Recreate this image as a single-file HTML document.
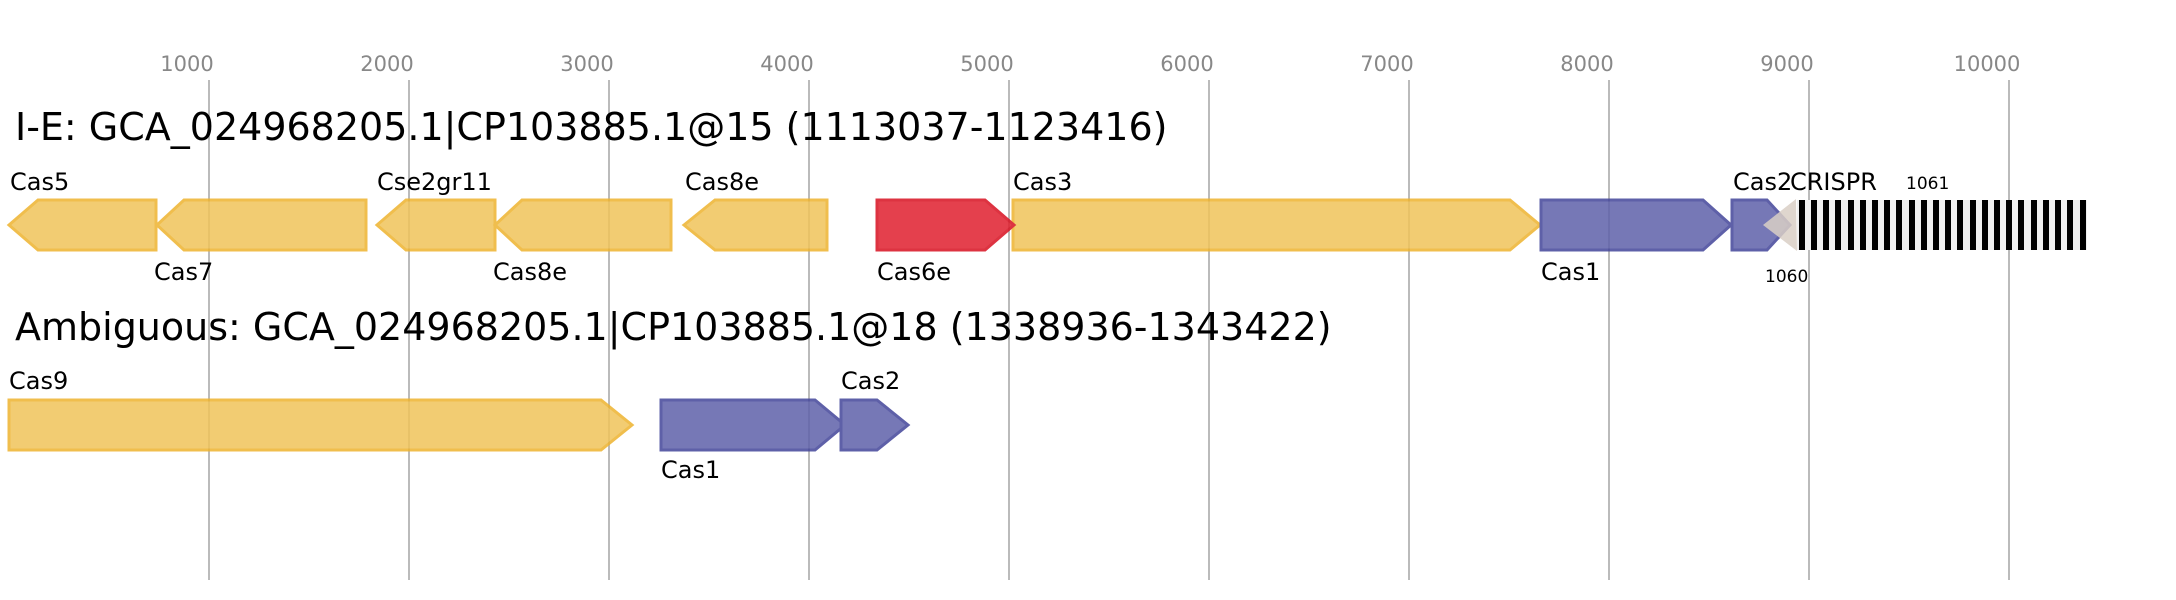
<!DOCTYPE html>
<html><head><style>body{margin:0;background:#fff}svg{display:block}</style></head><body>
<svg width="2176" height="600" xmlns="http://www.w3.org/2000/svg" font-family="DejaVu Sans, Liberation Sans, sans-serif">
<g stroke="#bbb" stroke-width="2">
<line x1="209" y1="80" x2="209" y2="580"/><line x1="409" y1="80" x2="409" y2="580"/><line x1="609" y1="80" x2="609" y2="580"/><line x1="809" y1="80" x2="809" y2="580"/><line x1="1009" y1="80" x2="1009" y2="580"/><line x1="1209" y1="80" x2="1209" y2="580"/><line x1="1409" y1="80" x2="1409" y2="580"/><line x1="1609" y1="80" x2="1609" y2="580"/><line x1="1809" y1="80" x2="1809" y2="580"/><line x1="2009" y1="80" x2="2009" y2="580"/>
</g>
<g fill="#888" font-size="21" text-anchor="middle">
<text x="187" y="71">1000</text><text x="387" y="71">2000</text><text x="587" y="71">3000</text><text x="787" y="71">4000</text><text x="987" y="71">5000</text><text x="1187" y="71">6000</text><text x="1387" y="71">7000</text><text x="1587" y="71">8000</text><text x="1787" y="71">9000</text><text x="1987" y="71">10000</text>
</g>
<text x="15" y="140" font-size="38">I-E: GCA_024968205.1|CP103885.1@15 (1113037-1123416)</text>
<text x="15" y="340" font-size="38">Ambiguous: GCA_024968205.1|CP103885.1@18 (1338936-1343422)</text>
<g stroke-width="3" opacity="0.85">
<g fill="#f0c45a" stroke="#eeb32f">
<polygon points="9,225 38,200 156,200 156,250 38,250"/>
<polygon points="157,225 184,200 366,200 366,250 184,250"/>
<polygon points="377,225 406,200 495,200 495,250 406,250"/>
<polygon points="495,225 522,200 671,200 671,250 522,250"/>
<polygon points="684,225 715,200 827,200 827,250 715,250"/>
<polygon points="1013,200 1510,200 1540,225 1510,250 1013,250"/>
<polygon points="9,400 601,400 632,425 601,450 9,450"/>
</g>
<polygon fill="#e01f2e" stroke="#d81020" points="877,200 985,200 1014,225 985,250 877,250"/>
<g fill="#5f61aa" stroke="#43459a">
<polygon points="1541,200 1703,200 1731,225 1703,250 1541,250"/>
<polygon points="1732,200 1767,200 1790,225 1767,250 1732,250"/>
<polygon points="661,400 815,400 845,425 815,450 661,450"/>
<polygon points="841,400 877,400 908,425 877,450 841,450"/>
</g>
</g>
<polygon fill="#d9cfc6" opacity="0.85" points="1763,225 1796,199 1797,251"/>
<rect x="1797" y="200" width="290" height="50" fill="#f0f0f0"/>
<g fill="#000">
<rect x="1799" y="200" width="6" height="50"/><rect x="1811" y="200" width="6" height="50"/><rect x="1823" y="200" width="6" height="50"/><rect x="1835" y="200" width="6" height="50"/><rect x="1848" y="200" width="6" height="50"/><rect x="1860" y="200" width="6" height="50"/><rect x="1872" y="200" width="6" height="50"/><rect x="1884" y="200" width="6" height="50"/><rect x="1896" y="200" width="6" height="50"/><rect x="1909" y="200" width="6" height="50"/><rect x="1921" y="200" width="6" height="50"/><rect x="1933" y="200" width="6" height="50"/><rect x="1945" y="200" width="6" height="50"/><rect x="1957" y="200" width="6" height="50"/><rect x="1970" y="200" width="6" height="50"/><rect x="1982" y="200" width="6" height="50"/><rect x="1994" y="200" width="6" height="50"/><rect x="2006" y="200" width="6" height="50"/><rect x="2018" y="200" width="6" height="50"/><rect x="2031" y="200" width="6" height="50"/><rect x="2043" y="200" width="6" height="50"/><rect x="2055" y="200" width="6" height="50"/><rect x="2067" y="200" width="6" height="50"/><rect x="2080" y="200" width="6" height="50"/>
</g>
<g font-size="24" fill="#000">
<text x="10" y="190">Cas5</text><text x="154" y="280">Cas7</text><text x="377" y="190">Cse2gr11</text><text x="493" y="280">Cas8e</text><text x="685" y="190">Cas8e</text><text x="877" y="280">Cas6e</text><text x="1013" y="190">Cas3</text><text x="1541" y="280">Cas1</text><text x="1733" y="190">Cas2</text><text x="1790" y="190">CRISPR</text>
<text x="9" y="389">Cas9</text><text x="661" y="478">Cas1</text><text x="841" y="389">Cas2</text>
</g>
<text x="1906" y="189" font-size="17">1061</text>
<text x="1765" y="282" font-size="17">1060</text>
</svg>
</body></html>
